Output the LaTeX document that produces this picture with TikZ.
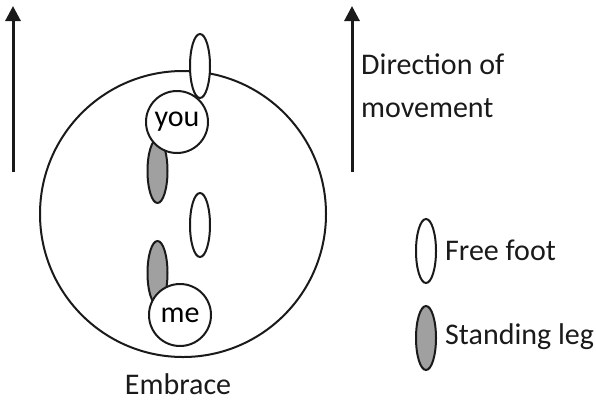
\documentclass[tikz,border=0pt]{standalone}
\usepackage{fontspec}
\setmainfont{Carlito}
\usepackage{tikz}
\usetikzlibrary{arrows.meta,positioning,shapes.geometric}
\definecolor{ink}{HTML}{1A1A1A}
\definecolor{legfill}{HTML}{A0A0A0}
\tikzset{
  person/.style={circle,draw=ink,line width=2pt,fill=white,minimum size=62pt,inner sep=0pt,font=\fontsize{30}{36}\selectfont},
  freefoot/.style={ellipse,draw=ink,line width=2pt,fill=white,minimum width=20pt,minimum height=64pt,inner sep=0pt},
  standleg/.style={freefoot,fill=legfill},
  label/.style={font=\fontsize{30}{36}\selectfont,text=ink,inner sep=0pt},
  movearrow/.style={line width=3pt,ink,-{Triangle[length=15pt,width=15pt]}}
}
\begin{document}
\begin{tikzpicture}[x=1pt,y=-1pt]
  \useasboundingbox (0,0) rectangle (596,405);
  % embrace
  \node[circle,draw=ink,line width=2pt,minimum size=286pt,inner sep=0pt] (embrace) at (183,214) {};
  \node[label] (embracetext) at (178,384) {Embrace};
  % feet
  \node[freefoot] (youfree) at (200,66) {};
  \node[standleg] (youstand) at (157.5,171) {};
  \node[freefoot] (mefree) at (200,225) {};
  \node[standleg] (mestand) at (157.5,273) {};
  \node[person] (you) at (177,122) {you};
  \node[person] (me) at (180,315) {me};
  % arrows
  \coordinate (lefttail) at (13,172);
  \coordinate (lefthead) at (13,6);
  \coordinate (righttail) at (352,172);
  \coordinate (righthead) at (352,6);
  \draw[movearrow] (lefttail) -- (lefthead);
  \draw[movearrow] (righttail) -- (righthead);
  \node[label,anchor=west] (dirtext) at (361,64) {Direction of};
  \node[label,anchor=west] (movtext) at (361,108) {movement};
  % legend
  \node[freefoot] (keyfree) at (426,251) {};
  \node[label,anchor=west] (freetext) at (445,250) {Free foot};
  \node[standleg] (keystand) at (426,338) {};
  \node[label,anchor=west] (standtext) at (445,337) {Standing leg};
\end{tikzpicture}
\end{document}
